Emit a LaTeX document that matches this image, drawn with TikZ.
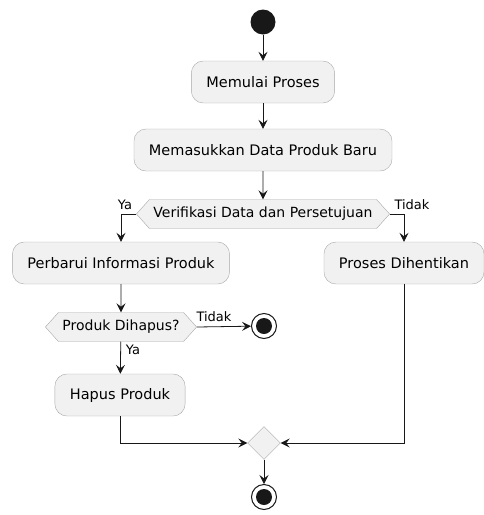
\documentclass[tikz,border=0pt]{standalone}
\usepackage{fontspec}
\setmainfont{DejaVu Sans}
\usepackage{tikz}
\usetikzlibrary{arrows.meta,shapes.geometric,shapes.symbols}
\definecolor{boxfill}{HTML}{F1F1F1}
\definecolor{boxline}{HTML}{A8A8A8}
\definecolor{flowline}{HTML}{181818}
\tikzset{
    action/.style={rectangle, rounded corners=12pt, draw=boxline, fill=boxfill,
            inner xsep=15pt, minimum height=42pt, font=\fontsize{14.5}{17}\selectfont},
    check/.style={signal, signal to=west and east, signal pointer angle=96, draw=boxline,
            fill=boxfill, inner xsep=4pt, minimum height=29pt, font=\fontsize{14}{16}\selectfont},
    merge/.style={diamond, draw=boxline, fill=boxfill, minimum size=33pt, inner sep=0pt},
    startdot/.style={circle, fill=flowline, minimum size=25pt, inner sep=0pt},
    enddot/.style={circle, draw=flowline, line width=1pt, fill=white, minimum size=25pt, inner sep=0pt,
            path picture={\fill[flowline] (path picture bounding box.center) circle (8pt);}},
    flow/.style={draw=flowline, line width=0.8pt, -{Stealth[length=9pt,width=9pt,inset=3.5pt]}},
    guard/.style={font=\fontsize{13}{15}\selectfont, inner sep=1pt}
}
\begin{document}
\begin{tikzpicture}[x=1pt, y=-1pt]
    \useasboundingbox (0, 0) rectangle (483, 515);
    % start and the first two steps
    \node (start) [startdot] at (263, 22) {};
    \node (begin) [action] at (263, 82) {Memulai Proses};
    \node (input) [action] at (263, 150) {Memasukkan Data Produk Baru};
    % first decision
    \node (verify) [check] at (263, 214) {Verifikasi Data dan Persetujuan};
    \node (update) [action] at (121, 263) {Perbarui Informasi Produk};
    \node (halt) [action] at (404, 263) {Proses Dihentikan};
    % second decision
    \node (ask) [check] at (121, 327) {Produk Dihapus?};
    \node (end1) [enddot] at (264, 326) {};
    \node (remove) [action] at (120, 395) {Hapus Produk};
    % merge and final stop
    \node (join) [merge] at (264, 443) {};
    \node (end2) [enddot] at (264, 497) {};
    % connectors
    \draw [flow] (start) -- (begin);
    \draw [flow] (begin) -- (input);
    \draw [flow] (input) -- (verify);
    \draw [flow] (verify.west) -| (update);
    \draw [flow] (verify.east) -| (halt);
    \draw [flow] (update) -- (ask);
    \draw [flow] (ask.east) -- (end1);
    \draw [flow] (ask) -- (remove);
    \draw [flow] (remove) |- (join);
    \draw [flow] (halt) |- (join);
    \draw [flow] (join) -- (end2);
    % guards
    \node (yes1) [guard] at (125, 205) {Ya};
    \node (no1) [guard] at (412, 205) {Tidak};
    \node (no2) [guard] at (214, 317) {Tidak};
    \node (yes2) [guard] at (133, 350) {Ya};
\end{tikzpicture}
\end{document}
